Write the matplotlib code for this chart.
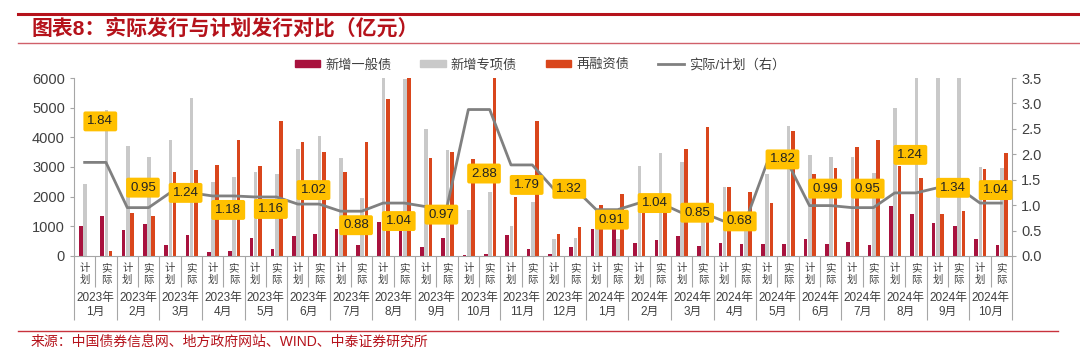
import matplotlib
matplotlib.use("Agg")
import matplotlib.pyplot as plt
import numpy as np
from matplotlib.lines import Line2D
from matplotlib.patches import Patch
from matplotlib.ticker import FormatStrFormatter

plt.rcParams['font.family'] = ['Liberation Sans', 'Noto Sans CJK SC', 'DejaVu Sans']

### DATA (亿元)
months = ['2023年\n1月', '2023年\n2月', '2023年\n3月', '2023年\n4月', '2023年\n5月', '2023年\n6月',
          '2023年\n7月', '2023年\n8月', '2023年\n9月', '2023年\n10月', '2023年\n11月', '2023年\n12月',
          '2024年\n1月', '2024年\n2月', '2024年\n3月', '2024年\n4月', '2024年\n5月', '2024年\n6月',
          '2024年\n7月', '2024年\n8月', '2024年\n9月', '2024年\n10月']
sub_labels = ['计\n划', '实\n际']

plan_general = [1026, 879, 383, 124, 620, 676, 902, 1150, 316, 20, 699, 68,
                924, 428, 665, 430, 417, 564, 473, 1680, 1094, 575]
plan_special = [2424, 3720, 3923, 2480, 2818, 3619, 3303, 6200, 4284, 1545, 1003, 564,
                1555, 3020, 3156, 2340, 2760, 3405, 3326, 4983, 6300, 3010]
plan_refi = [0, 1443, 2841, 3055, 3021, 3844, 2818, 5287, 3303, 3258, 1973, 755,
             1724, 2000, 3608, 2315, 1770, 2751, 3675, 3033, 1409, 2931]

actual_general = [1330, 1060, 699, 158, 248, 755, 372, 924, 598, 56, 225, 316,
                  969, 541, 338, 418, 417, 395, 372, 1398, 1026, 361]
actual_special = [4927, 3348, 5310, 2649, 2750, 4047, 1950, 5964, 3574, 2165, 1826, 620,
                  563, 3471, 1615, 876, 4386, 3326, 2807, 8000, 9270, 2954]
actual_refi = [158, 1330, 2886, 3912, 4543, 3495, 3844, 6250, 3517, 11670, 4566, 980,
               2096, 1750, 4363, 2164, 4228, 2976, 3912, 2616, 1500, 3484]

ratio = [1.84, 0.95, 1.24, 1.18, 1.16, 1.02, 0.88, 1.04, 0.97, 2.88, 1.79, 1.32,
         0.91, 1.04, 0.85, 0.68, 1.82, 0.99, 0.95, 1.24, 1.34, 1.04]

# label offsets (pixels, up is positive)
label_dy = [41, 20, 0, -14, -12, 14, -14, -18, -8, -64, -20, 0,
            -10, 0, 0, 0, 4, 17, 19, 38, 0, 13]
###

C_RED = '#A8123E'
C_GRAY = '#C9C9C9'
C_ORANGE = '#D9461C'
C_LINE = '#808080'
C_TITLE = '#B5121B'
C_AXIS = '#A6A6A6'


def interleave(a, b):
    return np.column_stack([a, b]).ravel()


general = interleave(plan_general, actual_general)
special = interleave(plan_special, actual_special)
refi = interleave(plan_refi, actual_refi)
ratio_line = interleave(ratio, ratio)

n = len(general)
x = np.arange(n) + 0.52
w = 0.17

fig = plt.figure(figsize=(10.8, 3.53), dpi=100)
ax = fig.add_axes([0.0685, 0.275, 0.8685, 0.504])

ax.bar(x - 0.2, general, w, color=C_RED, zorder=2)
ax.bar(x, special, w, color=C_GRAY, zorder=2)
ax.bar(x + 0.2, refi, w, color=C_ORANGE, zorder=2)

ax.set_xlim(0, n)
ax.set_ylim(0, 6000)
ax.set_yticks(np.arange(0, 6001, 1000))

# category separators as ticks
ax.set_xticks(np.arange(0, n + 1, 2))
ax.set_xticks(np.arange(1, n, 2), minor=True)
ax.tick_params(axis='x', which='major', length=46, width=0.8, color=C_AXIS, labelbottom=False)
ax.tick_params(axis='x', which='minor', length=22.5, width=0.8, color=C_AXIS, labelbottom=False)
ax.tick_params(axis='y', length=3, width=0.8, color=C_AXIS, labelsize=10.5, labelcolor='#404040')

for s in ['top', 'right']:
    ax.spines[s].set_visible(False)
for s in ['left', 'bottom']:
    ax.spines[s].set_color(C_AXIS)
    ax.spines[s].set_linewidth(0.8)

trans = ax.get_xaxis_transform()
for i in range(n):
    ax.text(i + 0.5, -0.1, sub_labels[i % 2], transform=trans, ha='center', va='center',
            fontsize=7.5, color='#404040', linespacing=1.2)
for m, lab in enumerate(months):
    ax.text(2 * m + 1, -0.275, lab, transform=trans, ha='center', va='center',
            fontsize=8.5, color='#404040', linespacing=1.3)

ax2 = ax.twinx()
ax2.plot(np.arange(n) + 0.5, ratio_line, color=C_LINE, lw=2, zorder=3)
ax2.set_ylim(0, 3.5)
ax2.set_yticks(np.arange(0, 3.51, 0.5))
ax2.yaxis.set_major_formatter(FormatStrFormatter('%.1f'))
ax2.tick_params(axis='y', length=3, width=0.8, color=C_AXIS, labelsize=10.5, labelcolor='#404040')
for s in ['top', 'left', 'bottom']:
    ax2.spines[s].set_visible(False)
ax2.spines['right'].set_color(C_AXIS)
ax2.spines['right'].set_linewidth(0.8)

for m, r in enumerate(ratio):
    ax2.annotate(f'{r:.2f}', (2 * m + 1, r), xytext=(5, label_dy[m]), textcoords='offset pixels',
                 ha='center', va='center', fontsize=9.5, color='#222222', zorder=5,
                 bbox=dict(boxstyle='round,pad=0.3,rounding_size=0.15', fc='#FFC000', ec='none'))

handles = [Patch(color=C_RED), Patch(color=C_GRAY), Patch(color=C_ORANGE),
           Line2D([], [], color=C_LINE, lw=2)]
names = ['新增一般债', '新增专项债', '再融资债', '实际/计划（右）']
fig.legend(handles, names, loc='center', bbox_to_anchor=(0.5, 0.816), ncol=4, frameon=False,
           fontsize=9.5, handlelength=1.9, handleheight=0.45, handletextpad=0.4,
           columnspacing=2.2, labelcolor='#404040')

# header / footer decorations
fig.add_artist(Line2D([0.017, 1.0], [1 - 13.5 / 353] * 2, color=C_TITLE, lw=2.2))
fig.add_artist(Line2D([0.017, 1.0], [1 - 42.5 / 353] * 2, color='#D0606A', lw=1))
fig.text(0.029, 1 - 28.5 / 353, '图表8：实际发行与计划发行对比（亿元）', fontsize=15,
         fontweight='bold', color=C_TITLE, ha='left', va='center')
fig.add_artist(Line2D([0.017, 0.98], [1 - 330.5 / 353] * 2, color='#C8323C', lw=1))
fig.text(0.028, 1 - 342 / 353, '来源：中国债券信息网、地方政府网站、WIND、中泰证券研究所', fontsize=10,
         color=C_TITLE, ha='left', va='center')

fig.savefig('out.png', dpi=100)
